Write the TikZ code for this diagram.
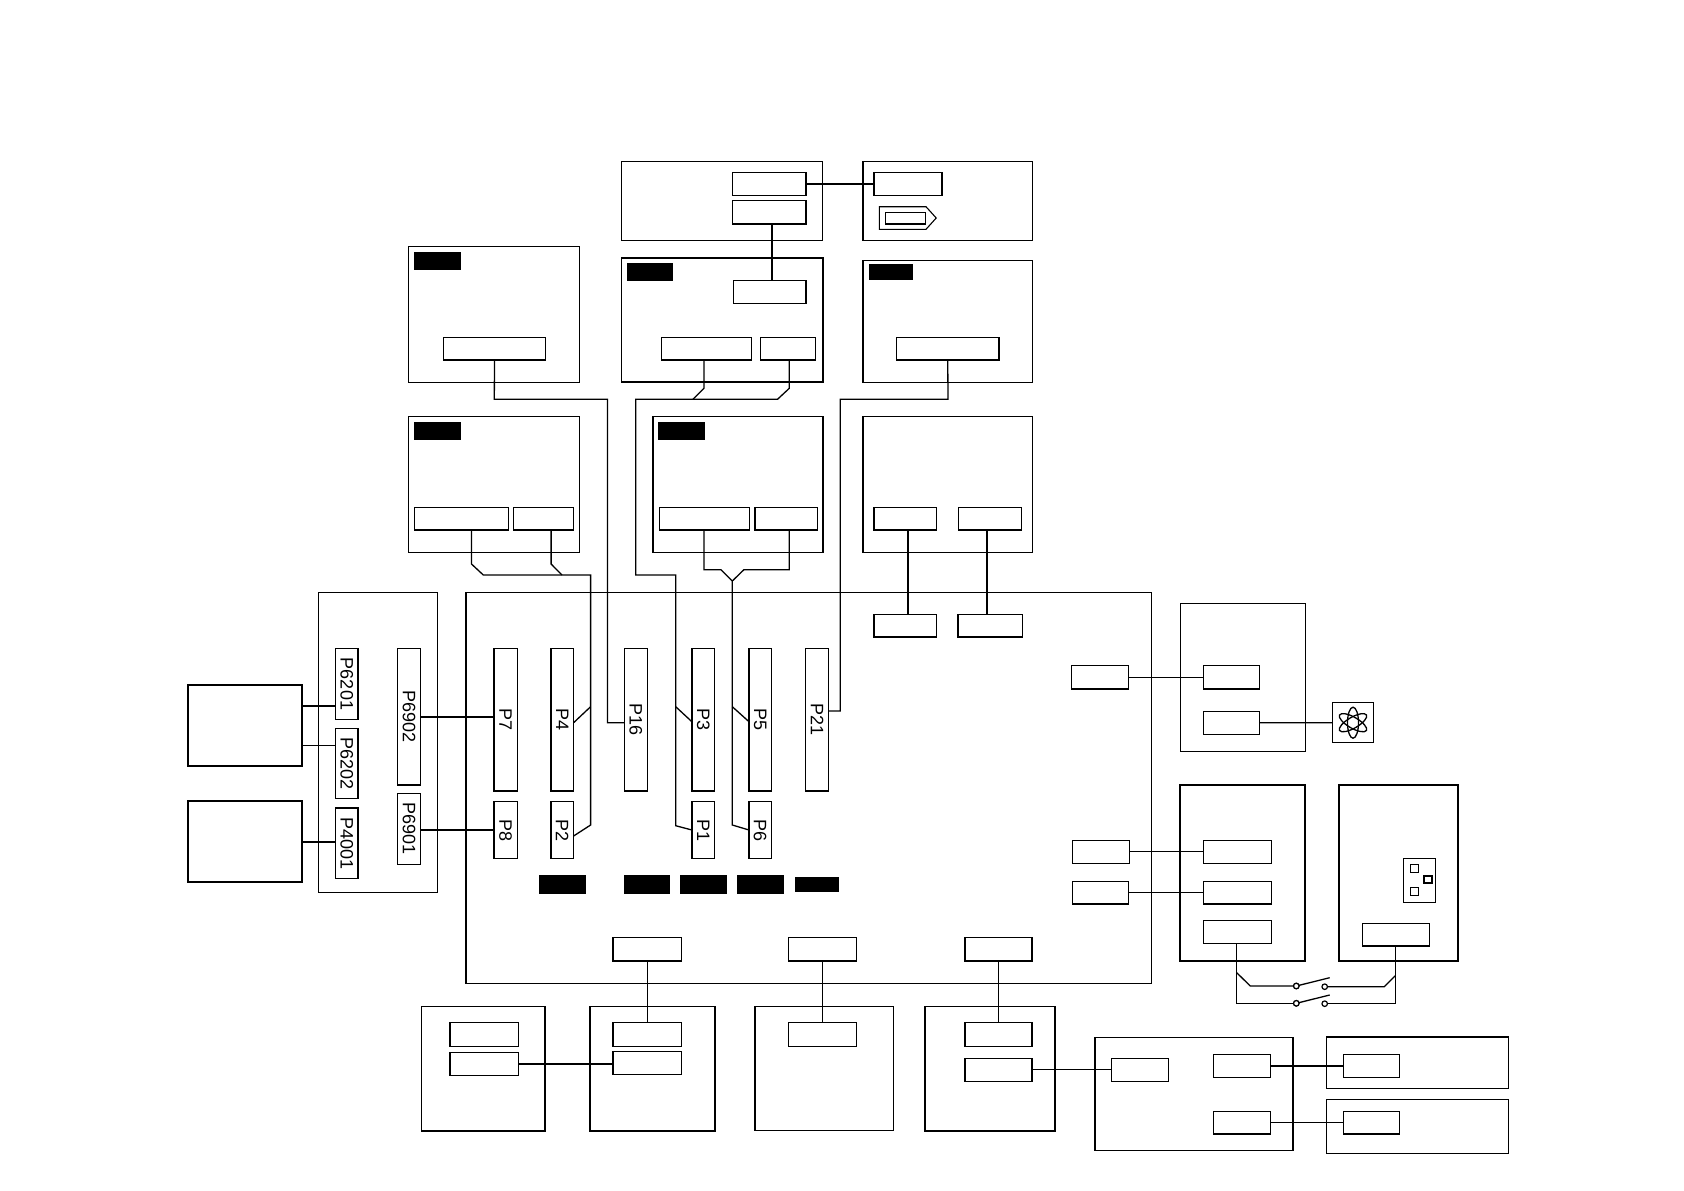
\documentclass[tikz,border=0pt]{standalone}
\usepackage{graphicx}
\usepackage{fontspec}
\setmainfont{Liberation Sans}
\tikzset{
  box/.style={draw=black,line width=1.4pt,inner sep=0pt,outer sep=0pt,rectangle},
  heavybox/.style={box,line width=1.8pt},
  lightbox/.style={box,line width=1.1pt},
  blackbox/.style={fill=black,draw=none,inner sep=0pt,outer sep=0pt,rectangle},
  pin/.style={box,font=\fontsize{18pt}{19pt}\selectfont},
  wire/.style={draw=black,line width=1.3pt,line join=miter},
  fatwire/.style={wire,line width=2pt},
  finewire/.style={wire,line width=0.8pt},
  pole/.style={circle,draw=black,fill=white,line width=1.2pt,minimum size=5.5pt,inner sep=0pt,outer sep=0pt}
}
\newcommand{\bx}[6][box]{%
  \pgfmathsetmacro\bcx{(#3+#5)/2}\pgfmathsetmacro\bcy{(#4+#6)/2}%
  \pgfmathsetmacro\bw{#5-#3}\pgfmathsetmacro\bh{#6-#4}%
  \node[#1,minimum width=\bw pt,minimum height=\bh pt] (#2) at (\bcx,\bcy) {};}
\newcommand{\px}[5]{%
  \pgfmathsetmacro\bcx{(#2+#4)/2}\pgfmathsetmacro\bcy{(#3+#5)/2}%
  \pgfmathsetmacro\bw{#4-#2}\pgfmathsetmacro\bh{#5-#3}%
  \node[pin,minimum width=\bw pt,minimum height=\bh pt] (#1) at (\bcx,\bcy) {\rotatebox{-90}{#1}};}
\begin{document}
\begin{tikzpicture}[x=1pt,y=-1pt]
\useasboundingbox (0,0) rectangle (1684,1191);
% large boxes
\bx{boxA}{621.4}{161.7}{822.6}{240.7}
\bx{boxB}{863}{161.7}{1032.2}{240.7}
\bx{boxC}{408.4}{246.7}{579.7}{382.3}
\bx[heavybox]{boxD}{621.4}{257.7}{822.6}{382.3}
\bx{boxE}{863}{260.3}{1032.2}{382.3}
\bx{boxF}{408.4}{416.3}{579.7}{552.3}
\bx{boxG}{653}{416.3}{823}{552.3}
\bx{boxH}{863}{416.3}{1032.2}{552.3}
\bx{panel}{318.7}{592.7}{437.4}{892.7}
\bx{mainb}{466}{592.7}{1151.3}{983.3}
\bx[heavybox]{lefta}{187.9}{685.3}{301.7}{766}
\bx[heavybox]{leftb}{187.9}{800.7}{301.7}{881.7}
\bx{rta}{1180.3}{603.3}{1305.3}{751.3}
\bx[heavybox]{rtb}{1180.3}{784.7}{1305.3}{960.7}
\bx[heavybox]{rtc}{1338.7}{784.7}{1458}{960.7}
\bx{bota}{421.4}{1006.7}{545}{1131}
\bx{botb}{590}{1006.7}{715}{1131}
\bx{botc}{755}{1006.7}{893.6}{1130.7}
\bx{botd}{925}{1006.7}{1055}{1131}
\bx{bote}{1095}{1037.3}{1292.9}{1150.7}
\bx{botf}{1326.4}{1037}{1508.6}{1088.3}
\bx{botg}{1326.4}{1099.3}{1508.6}{1153.3}
% black labels
\bx[blackbox]{ka}{413.9}{252}{461}{270}
\bx[blackbox]{kb}{626.9}{263}{673.1}{281}
\bx[blackbox]{kc}{868.9}{264}{913}{280}
\bx[blackbox]{kd}{413.9}{422}{461}{440}
\bx[blackbox]{ke}{658}{422}{705}{440}
\bx[blackbox]{kf}{539.2}{875}{585.6}{893.7}
\bx[blackbox]{kg}{623.6}{875}{670}{893.7}
\bx[blackbox]{kh}{680.3}{875}{726.7}{893.7}
\bx[blackbox]{ki}{737.4}{875}{783.8}{893.7}
\bx[blackbox]{kj}{795}{877}{839.2}{892}
% small connectors, top
\bx{aa}{732.5}{172.7}{806.1}{195.3}
\bx{ab}{732.5}{200.7}{806.1}{224}
\bx{ba}{873.9}{172.7}{942.1}{195.3}
\bx{ca}{443.4}{337.3}{545.6}{360}
\bx{da}{733.3}{280.3}{806.1}{303.3}
\bx{db}{661.4}{337.3}{751.4}{360}
\bx{dc}{760.7}{337.3}{815.4}{360}
\bx{ea}{896.6}{337.3}{998.9}{360}
\bx{fa}{414.3}{507.3}{508.6}{530}
\bx{fb}{513.2}{507.3}{573.4}{530}
\bx{ga}{659.3}{507.3}{749.7}{530}
\bx{gb}{754.8}{507.3}{817.5}{530}
\bx{ha}{873.9}{507.3}{936.2}{530}
\bx{hb}{958.5}{507.3}{1021.6}{530}
\bx{sa}{874}{614.3}{936.5}{637}
\bx{sb}{958}{614.3}{1022.4}{637}
% tag in boxB
\draw[line width=1.1pt] (879.4,206.7) -- (926,206.7) -- (936.2,218) -- (926,229.3) -- (879.4,229.3) -- cycle;
\bx{tagin}{885.3}{212.3}{925.3}{224}
% P connectors
\px{P6201}{335.6}{648.7}{358}{719.3}
\px{P6202}{335.6}{728.7}{358}{798.7}
\px{P4001}{335.6}{808}{358}{878.3}
\px{P6902}{397.7}{648.7}{420.4}{785}
\px{P6901}{397.7}{793.3}{420.4}{864.3}
\px{P7}{494}{648.7}{517.3}{791}
\px{P8}{494}{801.7}{517.3}{858.3}
\px{P4}{550.8}{648.7}{573.6}{791}
\px{P2}{550.8}{801.7}{573.6}{858.3}
\px{P16}{624.5}{648.7}{647.2}{791}
\px{P3}{691.9}{648.7}{714.6}{791}
\px{P1}{691.9}{801.7}{714.6}{858.3}
\px{P5}{749}{648.7}{771.3}{791}
\px{P6}{749}{801.7}{771.3}{858.3}
\px{P21}{805.7}{648.7}{828.5}{791}
% right side
\bx{ma}{1071.7}{665.7}{1128.7}{689}
\bx{mb}{1072.7}{840.3}{1129.3}{863.3}
\bx{mc}{1072.7}{881.3}{1128.7}{904}
\bx{ra}{1203.3}{665.7}{1259.7}{689}
\bx{rb}{1203.3}{711.3}{1259.7}{734.3}
\bx{rc}{1203.3}{840.3}{1271.3}{863.3}
\bx{rd}{1203.3}{881.3}{1271.3}{904}
\bx{re}{1203.3}{920.7}{1271.3}{943.7}
\bx{rf}{1362.3}{923.3}{1429.3}{946}
\bx{atom}{1332.7}{702.7}{1373.3}{742.7}
\foreach \ang in {90,30,150}
  \draw[line width=1.3pt,rotate around={\ang:(atom.center)}] (atom.center) ellipse [x radius=15.5pt,y radius=5.5pt];
\bx[lightbox]{sock}{1403.3}{858.3}{1435.7}{902.3}
\bx[lightbox]{sq1}{1410.7}{864.7}{1418.3}{872.3}
\bx[lightbox]{sq2}{1410.7}{887.7}{1418.3}{895.3}
\bx[heavybox]{sq3}{1424}{876}{1432}{883.3}
% bottom
\bx{mf}{612.9}{937.7}{681.4}{961}
\bx{mg}{788.6}{937.7}{856.4}{961}
\bx{mh}{965}{937.7}{1032.1}{961}
\bx{aab}{450}{1022.7}{518.6}{1046.3}
\bx{abb}{450}{1052.3}{518.6}{1075.3}
\bx{bab}{612.9}{1022.7}{681.4}{1046.3}
\bx{bbb}{612.9}{1051.3}{681.4}{1074.3}
\bx{cab}{788.6}{1022.7}{856.4}{1046.3}
\bx{dab}{965}{1022.7}{1032.1}{1046.3}
\bx{dbb}{965}{1058.3}{1032.1}{1081.3}
\bx{eaa}{1111.4}{1058.3}{1168.6}{1081.3}
\bx{eab}{1213.6}{1054.3}{1270.7}{1077.3}
\bx{eac}{1213.6}{1111.3}{1270.7}{1134}
\bx{faa}{1343.6}{1054.3}{1399.3}{1077.3}
\bx{fab}{1343.6}{1111.3}{1399.3}{1134}
% switch poles
\node[pole] (s1) at (1296.3,986) {};
\node[pole] (s2) at (1324.7,986.7) {};
\node[pole] (s3) at (1296.3,1003.3) {};
\node[pole] (s4) at (1324.7,1003.7) {};
% junction coordinates
\coordinate (jab) at (772,224);
\coordinate (jA) at (494.3,399.3);
\coordinate (jB) at (607.5,399.3);
\coordinate (jP16) at (607.5,722.7);
\coordinate (jD1) at (703.9,388.3);
\coordinate (jD2) at (692.9,399.3);
\coordinate (jD3) at (789.3,388.3);
\coordinate (jD4) at (777.5,399.3);
\coordinate (jD5) at (635.7,399.3);
\coordinate (jD6) at (635.7,575);
\coordinate (jD7) at (675.7,575);
\coordinate (jD8) at (675.7,706.7);
\coordinate (jD9) at (675.7,825.7);
\coordinate (jE1) at (948,399.3);
\coordinate (jE2) at (840.2,399.3);
\coordinate (jE3) at (840.2,711);
\coordinate (jF1) at (471.5,564);
\coordinate (jF2) at (483.3,575);
\coordinate (jF3) at (551.1,564);
\coordinate (jF4) at (562,575);
\coordinate (jF5) at (590.6,575);
\coordinate (jF6) at (590.6,706.7);
\coordinate (jF7) at (590.6,825);
\coordinate (pP4) at (573.6,722.7);
\coordinate (pP2) at (573.6,836);
\coordinate (pP3) at (691.9,721.7);
\coordinate (pP5) at (749,721.7);
\coordinate (jG1) at (703.9,569.7);
\coordinate (jG2) at (721,569.7);
\coordinate (jG3) at (732.3,581);
\coordinate (jG4) at (789.3,569.7);
\coordinate (jG5) at (743.9,569.7);
\coordinate (jG6) at (732.3,706.7);
\coordinate (jG7) at (732.3,825);
\coordinate (jH1) at (908,530);
\coordinate (jH2) at (987,530);
\coordinate (jS1) at (1236.7,972.7);
\coordinate (jS2) at (1250.3,986);
\coordinate (jS3) at (1236.7,1003.3);
\coordinate (jS4) at (1384.3,986.7);
\coordinate (jS5) at (1395.3,975.7);
\coordinate (jS6) at (1395.3,1003.7);
\coordinate (bl1) at (1329.7,977.7);
\coordinate (bl2) at (1329.7,995);
% wires
\draw[fatwire] (aa.east) -- (aa.east -| ba.west);
\draw[wire] (jab |- ab.south) -- (jab |- da.north);
\draw[wire] (ca.south) -- (jA) -- (jB) -- (jP16) -- (jP16 -| P16.west);
\draw[wire] (jD1 |- db.south) -- (jD1) -- (jD2);
\draw[wire] (jD3 |- dc.south) -- (jD3) -- (jD4) -- (jD5) -- (jD6) -- (jD7) -- (jD9) -- (P1.west);
\draw[wire] (jD8) -- (pP3);
\draw[wire] (ea.south) -- (jE1) -- (jE2) -- (jE3) -- (jE3 -| P21.east);
\draw[wire] (jF1 |- fa.south) -- (jF1) -- (jF2) -- (jF5) -- (jF7) -- (pP2);
\draw[wire] (jF3 |- fb.south) -- (jF3) -- (jF4);
\draw[wire] (jF6) -- (pP4);
\draw[wire] (jG1 |- ga.south) -- (jG1) -- (jG2) -- (jG3) -- (jG7) -- (P6.west);
\draw[wire] (jG4 |- gb.south) -- (jG4) -- (jG5) -- (jG3);
\draw[wire] (jG6) -- (pP5);
\draw[wire] (jH1) -- (jH1 |- sa.north);
\draw[wire] (jH2) -- (jH2 |- sb.north);
\coordinate (yA) at (0,706);
\coordinate (yB) at (0,745.3);
\coordinate (yC) at (0,842);
\coordinate (yD) at (0,717);
\coordinate (yE) at (0,830);
\draw[fatwire] (lefta.east |- yA) -- (P6201.west |- yA);
\draw[finewire] (lefta.east |- yB) -- (P6202.west |- yB);
\draw[fatwire] (leftb.east |- yC) -- (P4001.west |- yC);
\draw[wire] (P6902.east |- yD) -- (P7.west |- yD);
\draw[wire] (P6901.east |- yE) -- (P8.west |- yE);
\draw[wire] (ma.east) -- (ra.west);
\draw[wire] (rb.east) -- (atom.west);
\draw[wire] (mb.east) -- (rc.west);
\draw[wire] (mc.east) -- (rd.west);
\draw[wire] (jS3 |- re.south) -- (jS3) -- (s3.west);
\draw[wire] (jS1) -- (jS2) -- (s1.west);
\draw[wire] (s2.east) -- (jS4) -- (jS5);
\draw[wire] (jS6 |- rf.south) -- (jS6) -- (s4.east);
\draw[wire] (s1) -- (bl1);
\draw[wire] (s3) -- (bl2);
\node[pole] at (s1) {};
\node[pole] at (s3) {};
\draw[wire] (mf.south) -- (mf.south |- bab.north);
\draw[finewire] (mg.south) -- (mg.south |- cab.north);
\draw[wire] (mh.south) -- (mh.south |- dab.north);
\draw[fatwire] (abb.east) -- (abb.east -| bbb.west);
\draw[wire] (dbb.east) -- (eaa.west);
\draw[fatwire] (eab.east) -- (faa.west);
\draw[wire] (eac.east) -- (fab.west);
\end{tikzpicture}
\end{document}
